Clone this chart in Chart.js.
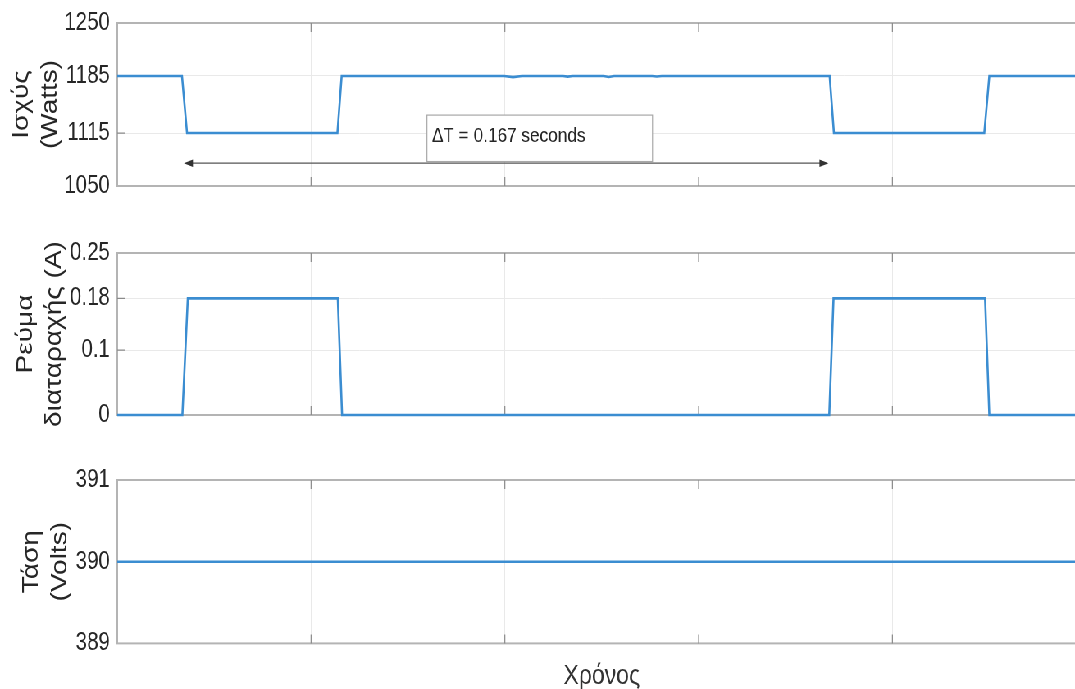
<!DOCTYPE html>
<html lang="el">
<head>
<meta charset="UTF-8">
<title>Ισχύς, ρεύμα διαταραχής και τάση</title>
<script src="https://cdn.jsdelivr.net/npm/chart.js"></script>
<style>
  html, body { margin: 0; padding: 0; background: #fff; overflow: hidden; width: 1075px; height: 689px; }
  /* the source image is squeezed horizontally, so draw wider and squeeze */
  #wrap { position: absolute; left: 0; top: 0; width: 1326px; height: 689px; transform: scaleX(0.82); transform-origin: 0 0; }
  .panel { position: absolute; left: 0; width: 1326px; }
</style>
</head>
<body>
<div id="wrap">
  <div class="panel" style="top:-7px;height:223px"><canvas id="c1"></canvas></div>
  <div class="panel" style="top:223px;height:222px"><canvas id="c2"></canvas></div>
  <div class="panel" style="top:450px;height:243px"><canvas id="c3"></canvas></div>
</div>
<script>
// time in seconds
const powerT = [0, 0.0167, 0.0180, 0.0568, 0.0579, 0.0998, 0.1021, 0.1044, 0.1150, 0.1162, 0.1175,
                0.1255, 0.1268, 0.1282, 0.1380, 0.1392, 0.1405, 0.1838, 0.1849, 0.2237, 0.2250, 0.25];
const powerW = [1185, 1185, 1115, 1115, 1185, 1185, 1183.6, 1185, 1185, 1184.2, 1185,
                1185, 1183.8, 1185, 1185, 1184.3, 1185, 1185, 1115, 1115, 1185, 1185];
const powerTicks = [1050, 1115, 1185, 1250];

const currentT = [0, 0.0168, 0.0182, 0.0569, 0.0580, 0.1837, 0.1848, 0.2239, 0.2250, 0.25];
const currentA = [0, 0, 0.18, 0.18, 0, 0, 0.18, 0.18, 0, 0];
const currentTicks = [0, 0.1, 0.18, 0.25];

const voltT = [0, 0.25];
const voltV = [390, 390];
const voltTicks = [389, 390, 391];

const deltaLabel = 'ΔT = 0.167 seconds';

const FONT = '"Liberation Sans", Arial, sans-serif';
const GRID = '#e9e9e9';
const INK = '#262626';

const framePlugin = {
    id: 'frame',
    beforeDatasetsDraw(chart) {
        const { ctx, chartArea: a, scales: { x, y } } = chart;
        ctx.save();
        ctx.strokeStyle = '#b4b4b4';
        ctx.lineWidth = 2;
        ctx.strokeRect(a.left, a.top, a.width, a.height);
        // small inward tick marks like matlab
        ctx.strokeStyle = '#8a8a8a';
        ctx.lineWidth = 1.2;
        ctx.beginPath();
        x.ticks.forEach(t => {
            const px = x.getPixelForValue(t.value);
            if (px <= a.left + 1 || px >= a.right - 1) return;
            ctx.moveTo(px, a.bottom); ctx.lineTo(px, a.bottom - 9);
            ctx.moveTo(px, a.top); ctx.lineTo(px, a.top + 9);
        });
        y.ticks.forEach(t => {
            const py = y.getPixelForValue(t.value);
            if (py <= a.top + 1 || py >= a.bottom - 1) return;
            ctx.moveTo(a.left, py); ctx.lineTo(a.left + 10, py);
        });
        ctx.stroke();
        ctx.restore();
    }
};

// ΔT annotation on the power panel
const deltaPlugin = {
    id: 'delta',
    afterDatasetsDraw(chart) {
        const { ctx, scales: { x, y } } = chart;
        ctx.save();
        // text box
        const bx0 = x.getPixelForValue(0.0799), bx1 = x.getPixelForValue(0.1381);
        const by0 = y.getPixelForValue(1137), by1 = y.getPixelForValue(1080);
        ctx.fillStyle = '#fff';
        ctx.fillRect(bx0, by0, bx1 - bx0, by1 - by0);
        ctx.strokeStyle = '#a8a8a8';
        ctx.lineWidth = 1.2;
        ctx.strokeRect(bx0, by0, bx1 - bx0, by1 - by0);
        ctx.fillStyle = INK;
        ctx.font = '21px ' + FONT;
        ctx.textBaseline = 'middle';
        ctx.fillText(deltaLabel, bx0 + 6, y.getPixelForValue(1111));
        // double arrow
        const ax0 = x.getPixelForValue(0.0172), ax1 = x.getPixelForValue(0.1835);
        const ay = y.getPixelForValue(1078);
        ctx.strokeStyle = '#555';
        ctx.lineWidth = 1.3;
        ctx.beginPath();
        ctx.moveTo(ax0 + 4, ay); ctx.lineTo(ax1 - 4, ay);
        ctx.stroke();
        ctx.fillStyle = '#333';
        ctx.beginPath();
        ctx.moveTo(ax0, ay); ctx.lineTo(ax0 + 11, ay - 3.8); ctx.lineTo(ax0 + 11, ay + 3.8); ctx.closePath();
        ctx.moveTo(ax1, ay); ctx.lineTo(ax1 - 11, ay - 3.8); ctx.lineTo(ax1 - 11, ay + 3.8); ctx.closePath();
        ctx.fill();
        ctx.restore();
    }
};

function makePanel(id, t, v, yMin, yMax, yTicks, title, titlePad, pad, xTitle, extra) {
    const plugins = [framePlugin];
    if (extra) plugins.push(extra);
    return new Chart(document.getElementById(id), {
        type: 'line',
        data: {
            datasets: [{
                data: t.map((tt, i) => ({ x: tt, y: v[i] })),
                borderColor: '#3b8dd1',
                borderWidth: 2.6,
                pointRadius: 0,
                tension: 0,
                clip: false
            }]
        },
        options: {
            responsive: true,
            maintainAspectRatio: false,
            animation: false,
            events: [],
            layout: { padding: pad },
            plugins: { legend: { display: false }, tooltip: { enabled: false } },
            scales: {
                x: {
                    type: 'linear',
                    min: 0,
                    max: 0.25,
                    ticks: { display: false, stepSize: 0.05 },
                    grid: { color: GRID, drawTicks: false },
                    border: { display: false },
                    title: {
                        display: !!xTitle,
                        text: xTitle || '',
                        color: '#333',
                        font: { family: FONT, size: 28, lineHeight: 1.2 },
                        padding: { top: 16, bottom: 0 }
                    }
                },
                y: {
                    min: yMin,
                    max: yMax,
                    afterBuildTicks: s => { s.ticks = yTicks.map(val => ({ value: val })); },
                    afterFit: s => { s.width = 143; },
                    ticks: {
                        color: INK,
                        font: { family: FONT, size: 25 },
                        padding: 9,
                        callback: val => String(val)
                    },
                    grid: { color: GRID, drawTicks: false },
                    border: { display: false },
                    title: {
                        display: true,
                        text: title,
                        color: INK,
                        font: { family: FONT, size: 28, lineHeight: 1.25 },
                        padding: { top: titlePad, bottom: 0 }
                    }
                }
            }
        },
        plugins: plugins
    });
}

makePanel('c1', powerT, powerW, 1050, 1250, powerTicks, ['Ισχύς', '(Watts)'], 9,
    { top: 30, bottom: 30, left: 0, right: 0 }, null, deltaPlugin);
makePanel('c2', currentT, currentA, 0, 0.25, currentTicks, ['Ρεύμα', 'διαταραχής (A)'], 14,
    { top: 30, bottom: 30, left: 0, right: 0 }, null, null);
makePanel('c3', voltT, voltV, 389, 391, voltTicks, ['Τάση', '(Volts)'], 21,
    { top: 30, bottom: 0, left: 0, right: 0 }, 'Χρόνος', null);
</script>
</body>
</html>
